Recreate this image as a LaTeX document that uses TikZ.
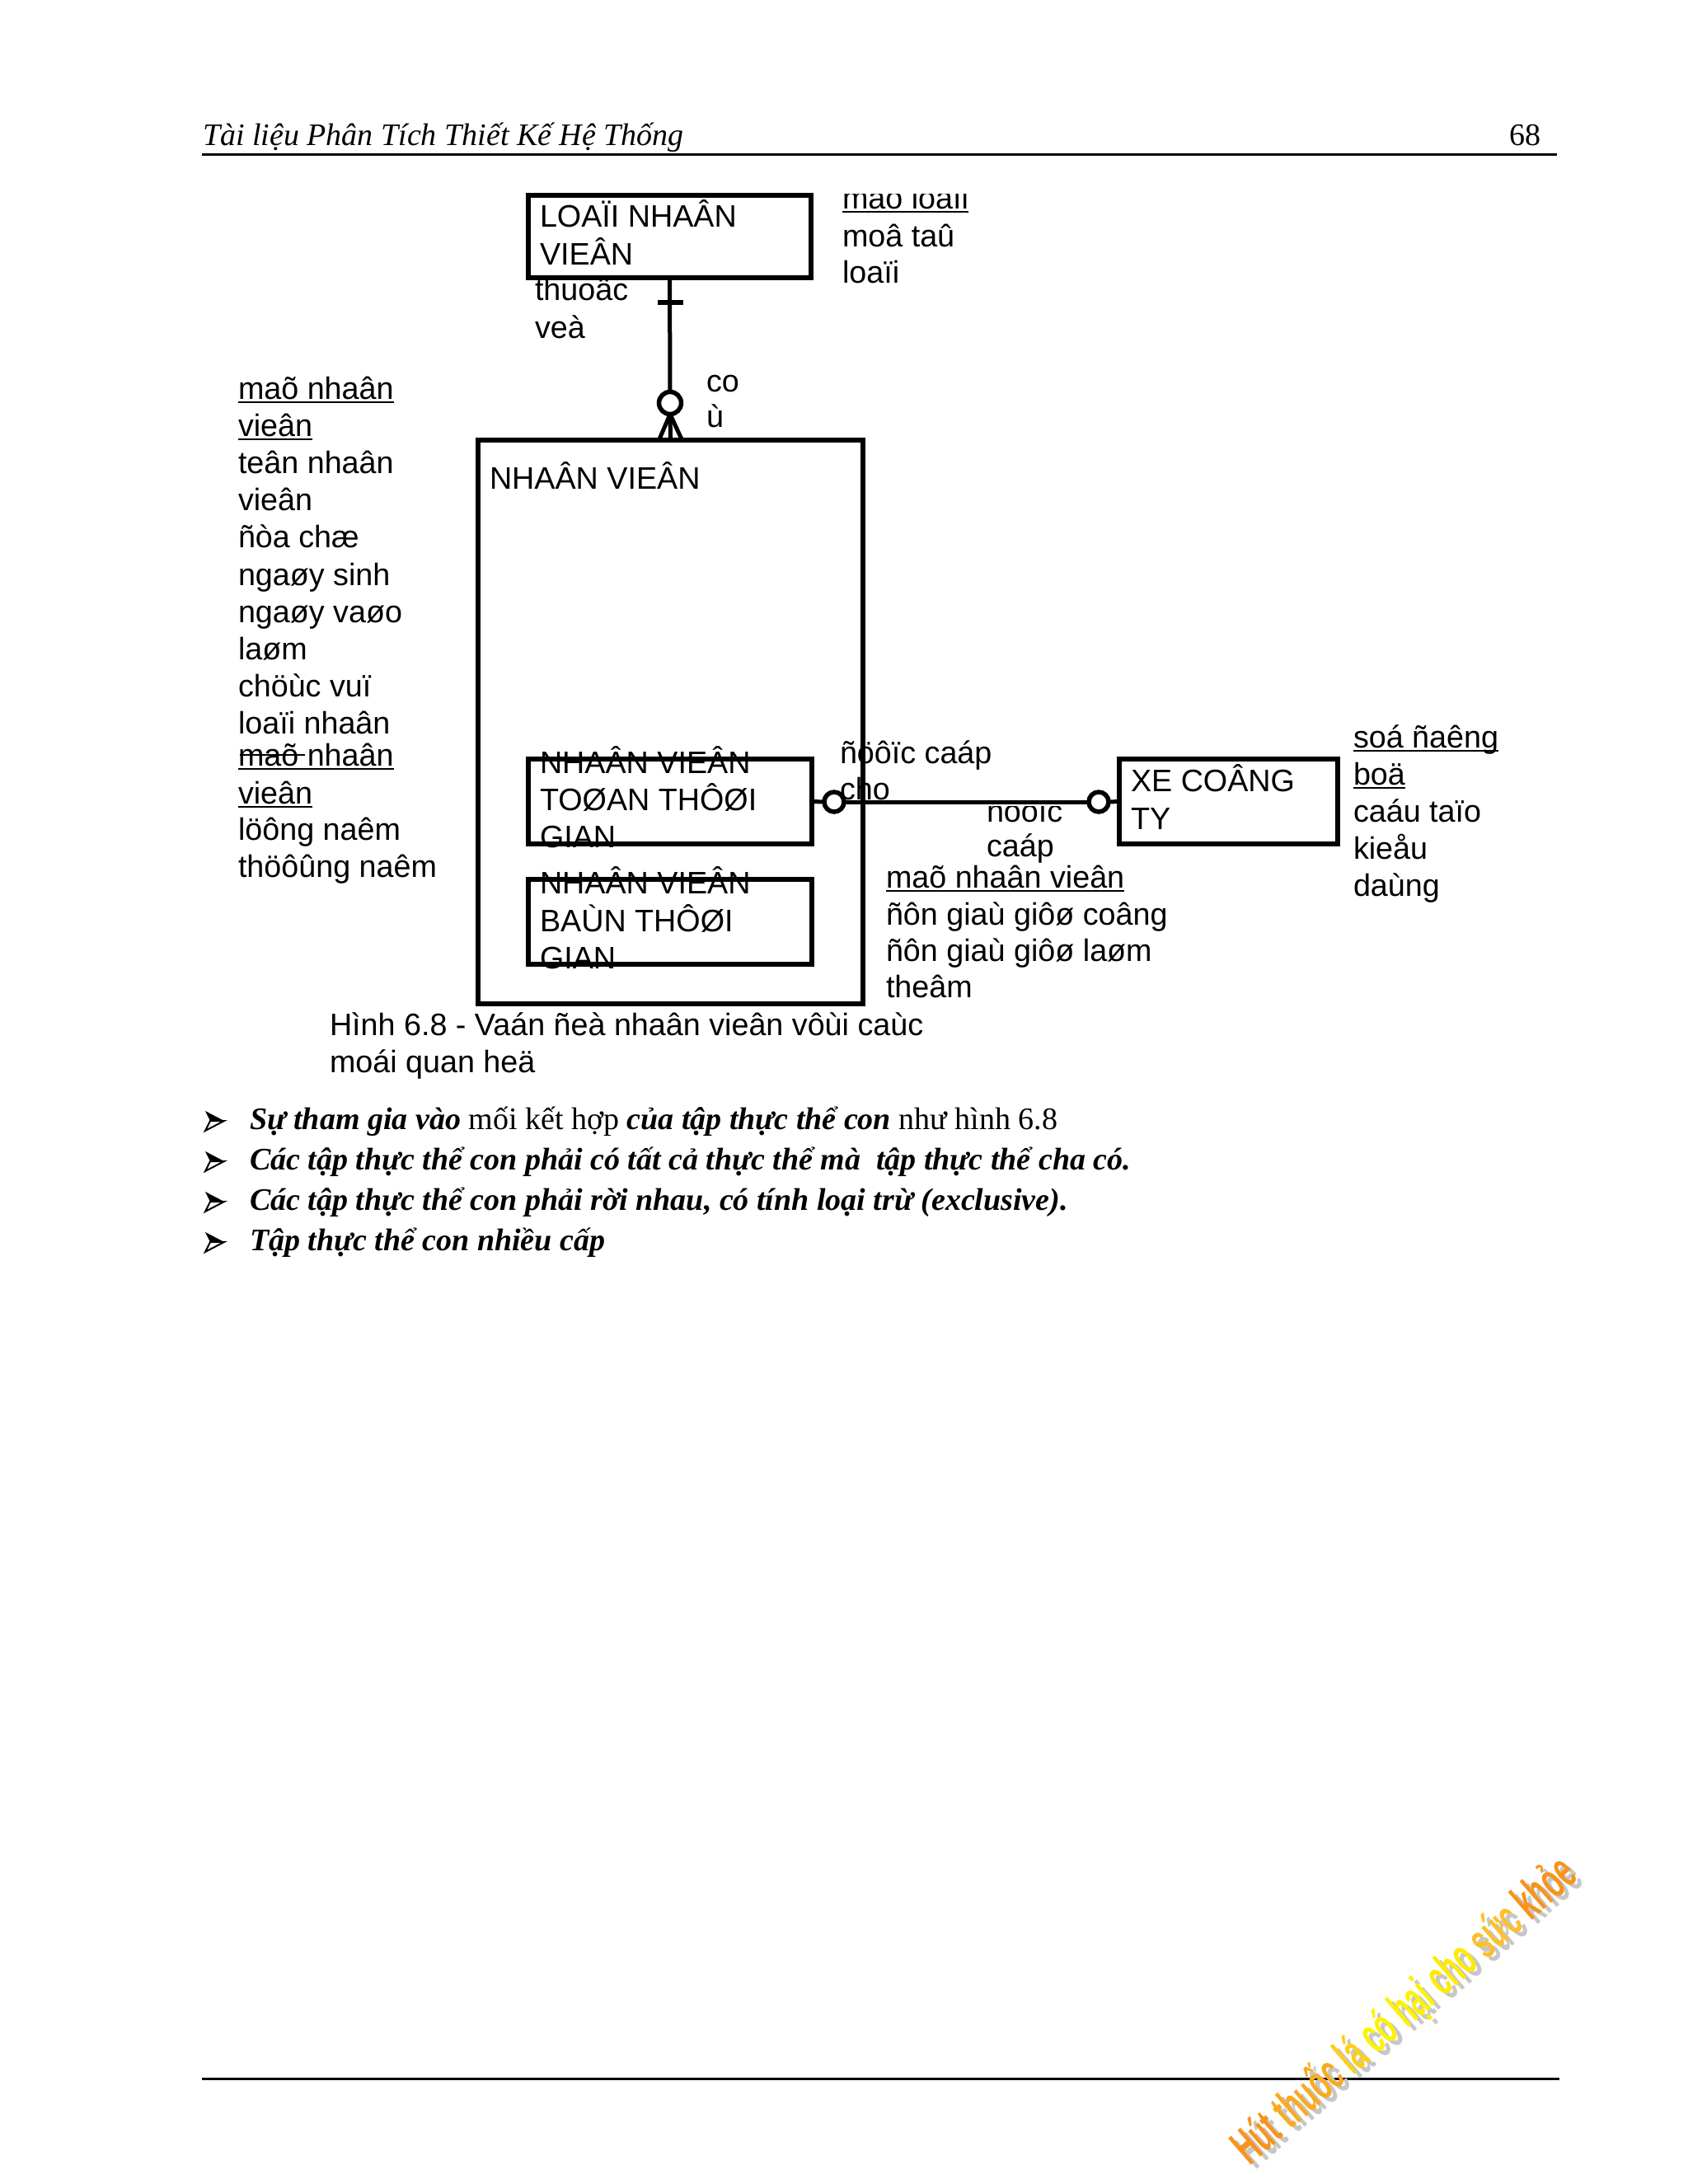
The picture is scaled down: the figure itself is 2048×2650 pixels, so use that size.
\documentclass[tikz,border=0pt]{standalone}
\usepackage{fontspec}
\setmainfont{Liberation Sans}
\newfontfamily\tnr{Liberation Serif}
\definecolor{wmA}{HTML}{F7941D}
\definecolor{wmB}{HTML}{FAAA22}
\definecolor{wmC}{HTML}{FDD017}
\definecolor{wmD}{HTML}{FFF200}
\definecolor{wmE}{HTML}{FFEA00}
\definecolor{wmF}{HTML}{FBC02D}
\begin{document}
\begin{tikzpicture}[x=0.5pt,y=-0.5pt,
  lbl/.style={anchor=base west, inner sep=0pt, outer sep=0pt, font=\fontsize{18.85}{22}\selectfont},
  serif/.style={anchor=base west, inner sep=0pt, outer sep=0pt, font=\tnr\fontsize{19}{22}\selectfont},
  ebox/.style={rectangle, draw, line width=3pt, inner sep=0pt, outer sep=0pt, anchor=north west},
  conn/.style={line width=2.5pt},
  ring/.style={circle, draw, line width=2.75pt, fill=white, inner sep=0pt, outer sep=0pt},
  uline/.style={line width=1.3pt},
  rulel/.style={line width=1.5pt},
  wmark/.style={anchor=base west, inner sep=0pt, outer sep=0pt, font=\bfseries\fontsize{30.7}{31}\selectfont, cm={0.415,0.361,-0.656,0.755,(0,0)}},
]
\fill[white] (0,0) rectangle (2048,2650);
\useasboundingbox (0,0) rectangle (2048,2650);

% header and footer
\node[serif, font=\tnr\itshape\fontsize{19}{22}\selectfont] (hdr) at (246,176) {Tài liệu Phân Tích Thiết Kế Hệ Thống};
\node[serif, anchor=base east] (pg) at (1869,176) {68};
\draw[rulel] (245,187) -- (1889,187);
\draw[rulel] (245,2522) -- (1892,2522);

% entity boxes
\node[ebox, minimum width=171.5pt, minimum height=50pt] (lnv) at (641,237) {};
\node[ebox, minimum width=233.5pt, minimum height=342pt] (nv) at (580,534) {};
\node[ebox, minimum width=172pt, minimum height=51.5pt] (b1) at (641,921) {};
\node[ebox, minimum width=172pt, minimum height=51.5pt] (b2) at (641,1067) {};
\node[ebox, minimum width=132.5pt, minimum height=51.5pt] (xe) at (1358,921) {};

% box texts
\node[lbl] (t1) at (655,275) {LOAÏI NHAÂN};
\node[lbl] (t2) at (655,321) {VIEÂN};
\node[lbl] (t3) at (594,593) {NHAÂN VIEÂN};
\node[lbl] (t4) at (655,938) {NHAÂN VIEÂN};
\node[lbl] (t5) at (655,983) {TOØAN THÔØI};
\node[lbl] (t6) at (655,1028) {GIAN};
\node[lbl] (t7) at (655,1084) {NHAÂN VIEÂN};
\node[lbl] (t8) at (655,1130) {BAÙN THÔØI};
\node[lbl] (t9) at (655,1175) {GIAN};
\node[lbl] (t10) at (1372,960) {XE COÂNG};
\node[lbl] (t11) at (1372,1006) {TY};

% connector top
\node[ring, minimum size=13.5pt] (r1) at (813,489) {};
\coordinate (bar) at (813,367);
\draw[conn] (lnv.south) -- (r1.north);
\draw[line width=3pt] ([xshift=-7.5pt]bar) -- ([xshift=8pt]bar);
\draw[conn] (r1.south) -- ([xshift=-7pt]nv.north);
\draw[conn] (r1.south) -- (nv.north);
\draw[conn] (r1.south) -- ([xshift=7pt]nv.north);

% connector horizontal
\node[ring, minimum size=12pt] (r2) at (1012,973) {};
\node[ring, minimum size=12pt] (r3) at (1333,973) {};
\draw[conn] (b1.east) -- (r2.west);
\draw[conn] (r2.east) -- (r3.west);
\draw[conn] (r3.east) -- (xe.west);

% labels around LOAI NHAN VIEN
\begin{scope}
\clip (1000,235) rectangle (1300,275);
\node[lbl] (a1) at (1022,253) {maõ loaïi};
\end{scope}
\draw[uline] ([yshift=-2pt]a1.base west) -- ([yshift=-2pt]a1.base east);
\node[lbl] (a2) at (1022,299) {moâ taû};
\node[lbl] (a3) at (1022,343) {loaïi};
\node[lbl] (a4) at (649,364) {thuoäc};
\node[lbl] (a5) at (649,410) {veà};
\node[lbl] (a6) at (857,475) {co};
\node[lbl] (a7) at (857,518) {ù};

% left attribute list
\node[lbl] (p1) at (289,484) {maõ nhaân};
\node[lbl] (p2) at (289,529) {vieân};
\node[lbl] (p3) at (289,574) {teân nhaân};
\node[lbl] (p4) at (289,619) {vieân};
\node[lbl] (p5) at (289,664) {ñòa chæ};
\node[lbl] (p6) at (289,710) {ngaøy sinh};
\node[lbl] (p7) at (289,755) {ngaøy vaøo};
\node[lbl] (p8) at (289,800) {laøm};
\node[lbl] (p9) at (289,845) {chöùc vuï};
\node[lbl] (p10) at (289,890) {loaïi nhaân};
\draw[uline] ([yshift=-2pt]p1.base west) -- ([yshift=-2pt]p1.base east);
\draw[uline] ([yshift=-2pt]p2.base west) -- ([yshift=-2pt]p2.base east);
\node[lbl] (q1) at (289,929) {maõ nhaân};
\node[lbl] (q2) at (289,975) {vieân};
\node[lbl] (q3) at (289,1019) {löông naêm};
\node[lbl] (q4) at (289,1064) {thöôûng naêm};
\draw[uline] ([yshift=-2pt]q1.base west) -- ([yshift=-2pt]q1.base east);
\draw[uline] ([yshift=-2pt]q2.base west) -- ([yshift=-2pt]q2.base east);
\draw[line width=1.2pt] (291,916) -- (370,916);

% relationship labels
\node[lbl] (c1) at (1019,926) {ñöôïc caáp};
\node[lbl] (c2) at (1019,970) {cho};
\begin{scope}
\clip (1180,978) rectangle (1330,1012);
\node[lbl] (c3) at (1197,997) {ñöôïc};
\end{scope}
\node[lbl] (c4) at (1197,1039) {caáp};
\node[lbl] (d1) at (1075,1077) {maõ nhaân vieân};
\draw[uline] ([yshift=-2pt]d1.base west) -- ([yshift=-2pt]d1.base east);
\node[lbl] (d2) at (1075,1122) {ñôn giaù giôø coâng};
\node[lbl] (d3) at (1075,1166) {ñôn giaù giôø laøm};
\node[lbl] (d4) at (1075,1210) {theâm};

% XE attributes
\node[lbl] (e1) at (1642,907) {soá ñaêng};
\node[lbl] (e2) at (1642,952) {boä};
\node[lbl] (e3) at (1642,997) {caáu taïo};
\node[lbl] (e4) at (1642,1042) {kieåu};
\node[lbl] (e5) at (1642,1087) {daùng};
\draw[uline] ([yshift=-2pt]e1.base west) -- ([yshift=-2pt]e1.base east);
\draw[uline] ([yshift=-2pt]e2.base west) -- ([yshift=-2pt]e2.base east);

% caption
\node[lbl] (cap1) at (400,1256) {Hình 6.8 - Vaán ñeà nhaân vieân vôùi caùc};
\node[lbl] (cap2) at (400,1301) {moái quan heä};

% bullets
\foreach \yy in {1370,1419,1468,1517} {
  \fill (249,\yy-22) -- (272,\yy-10) -- (255,\yy-10) -- cycle;
  \draw[line width=1pt, fill=white] (255,\yy-10) -- (272,\yy-10) -- (249,\yy+2) -- cycle;
}
\node[serif] (s1) at (303,1370) {{\bfseries\itshape Sự tham gia vào} mối kết hợp {\bfseries\itshape của tập thực thể con} như hình 6.8};
\node[serif, font=\tnr\bfseries\itshape\fontsize{19}{22}\selectfont] (s2) at (303,1419) {Các tập thực thể con phải có tất cả thực thể mà\ \ tập thực thể cha có.};
\node[serif, font=\tnr\bfseries\itshape\fontsize{19}{22}\selectfont] (s3) at (303,1468) {Các tập thực thể con phải rời nhau, có tính loại trừ (exclusive).};
\node[serif, font=\tnr\bfseries\itshape\fontsize{19}{22}\selectfont] (s4) at (303,1517) {Tập thực thể con nhiều cấp};

% watermark
\node[wmark, text=black!22] (wms) at (1523,2633) {Hút thuốc lá có hại cho sức khỏe};
\node[wmark] (wm) at (1516,2628) {\textcolor{wmA}{Hút} \textcolor{wmB}{thuốc} \textcolor{wmC}{lá} \textcolor{wmD}{có} \textcolor{wmD}{hại} \textcolor{wmE}{cho} \textcolor{wmF}{sức} \textcolor{wmA}{khỏe}};
\end{tikzpicture}
\end{document}
